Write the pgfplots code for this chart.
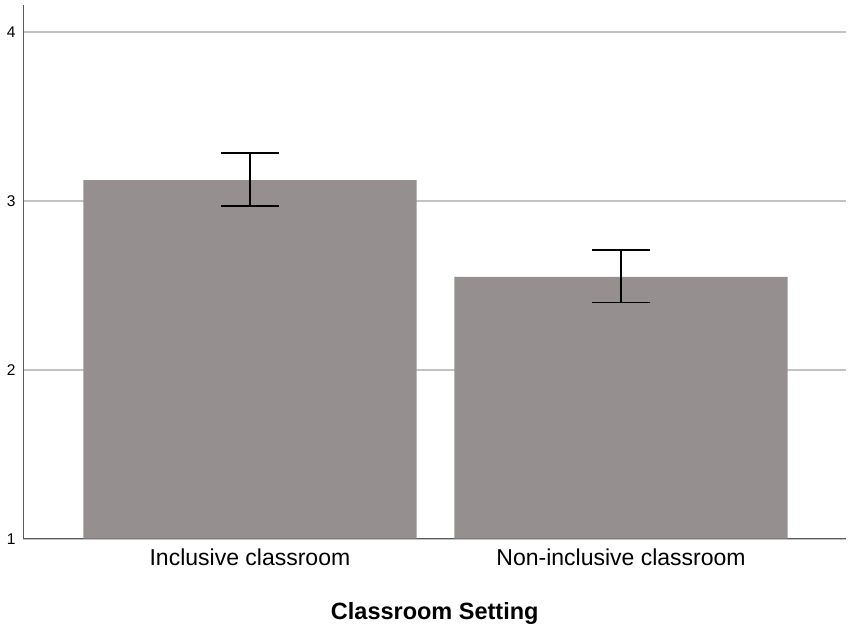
\documentclass[border=0pt]{standalone}
\usepackage{pgfplots}
\pgfplotsset{compat=1.18}
\usepackage{fontspec}
\setmainfont{Liberation Sans}

\definecolor{barfill}{RGB}{150,143,143}
\definecolor{gridgray}{RGB}{195,195,195}
\definecolor{axisgray}{RGB}{90,90,90}

\begin{document}
\begin{tikzpicture}
\begin{axis}[
scale only axis,
width=822.5pt, height=533.7pt,
xmin=-0.610, xmax=1.606,
ymin=1, ymax=4.158,
axis lines=left,
axis line style={axisgray, line width=1.6pt, -},
ymajorgrids,
y grid style={gridgray, line width=2pt},
major tick length=0pt,
xtick={0,1},
xticklabels={Inclusive classroom,Non-inclusive classroom},
ytick={1,2,3,4},
/pgf/number format/assume math mode=true,
yticklabel style={font=\fontsize{15.5}{15.5}\selectfont, xshift=-4.5pt},
xticklabel style={font=\fontsize{23}{23}\selectfont, yshift=-6.6pt},
xlabel={\textbf{Classroom Setting}},
xlabel style={font=\fontsize{23.5}{23.5}\selectfont, at={(axis description cs:0.5,0)}, anchor=base, yshift=-81.3pt},
]
\addplot[ybar, bar width=0.898, fill=barfill, draw=none,
  error bars/.cd, y dir=both, y explicit,
  error bar style={black, line width=1.8pt},
  error mark options={rotate=90, black, mark size=29pt, line width=1.8pt}]
coordinates {
(0,3.122) += (0,0.158) -= (0,0.153)
(1,2.549) += (0,0.157) -= (0,0.151)
};
\end{axis}
\path ([xshift=-23.5pt,yshift=-88.3pt]current axis.south west) rectangle ([xshift=5pt,yshift=5pt]current axis.north east);
\end{tikzpicture}
\end{document}
